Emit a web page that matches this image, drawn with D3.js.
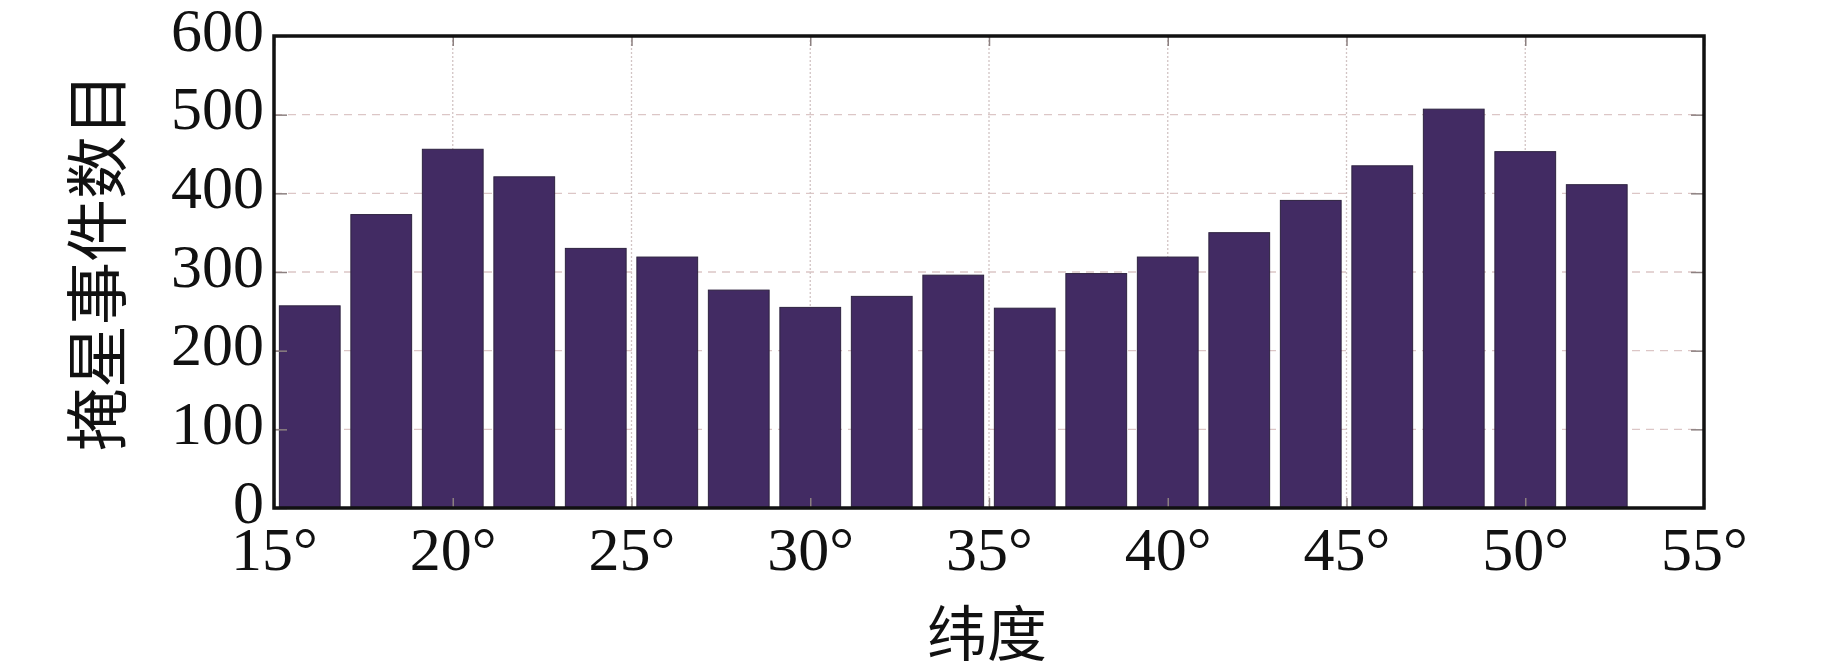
<!DOCTYPE html>
<html>
<head>
<meta charset="utf-8">
<script src="https://cdn.jsdelivr.net/npm/d3@7"></script>
<style>
  html, body { margin: 0; padding: 0; background: #fff; }
  svg { display: block; }
</style>
</head>
<body>
<svg id="chart" width="1843" height="668"></svg>
<script>
// Data
const binCenters = [16, 18, 20, 22, 24, 26, 28, 30, 32, 34, 36, 38, 40, 42, 44, 46, 48, 50, 52];
const eventCounts = [257, 373, 456, 421, 330, 319, 277, 255, 269, 296, 254, 298, 319, 350, 391, 435, 507, 453, 411];
const xTickValues = [15, 20, 25, 30, 35, 40, 45, 50, 55];
const yTickValues = [0, 100, 200, 300, 400, 500, 600];
const xTitle = "纬度";
const yTitle = "掩星事件数目";
const barWidthDeg = 1.7;

// Layout
const plotL = 274, plotR = 1704, plotT = 36, plotB = 508;
const svg = d3.select("#chart");

const x = d3.scaleLinear().domain([15, 55]).range([plotL, plotR]);
const y = d3.scaleLinear().domain([0, 600]).range([plotB, plotT]);

const serif = "Liberation Serif";
const cjk = "Noto Sans CJK SC";

// Grid lines
const grid = svg.append("g");
grid.selectAll("line.h").data(yTickValues.filter(v => v > 0 && v < 600)).enter()
  .append("line")
  .attr("x1", plotL).attr("x2", plotR)
  .attr("y1", d => y(d)).attr("y2", d => y(d))
  .attr("stroke", "#dcc6c6").attr("stroke-width", 1.3)
  .attr("stroke-dasharray", "8,6");
grid.selectAll("line.v").data(xTickValues.filter(v => v > 15 && v < 55)).enter()
  .append("line")
  .attr("x1", d => x(d)).attr("x2", d => x(d))
  .attr("y1", plotT).attr("y2", plotB)
  .attr("stroke", "#d2c4c4").attr("stroke-width", 1.3)
  .attr("stroke-dasharray", "2,2");

// Bars
svg.append("g").selectAll("rect").data(binCenters.map((c, i) => ({c, v: eventCounts[i]}))).enter()
  .append("rect")
  .attr("x", d => x(d.c - barWidthDeg / 2))
  .attr("width", d => x(d.c + barWidthDeg / 2) - x(d.c - barWidthDeg / 2))
  .attr("y", d => y(d.v))
  .attr("height", d => y(0) - y(d.v))
  .attr("fill", "#422b63")
  .attr("stroke", "#2e2340")
  .attr("stroke-width", 1);

// Axes (inward ticks, gray)
const tickColor = "#8c8080";
const yAxisL = d3.axisLeft(y).tickValues(yTickValues).tickSize(-13).tickFormat(d3.format("d"));
const gL = svg.append("g").attr("transform", `translate(${plotL},0)`).call(yAxisL);
gL.select(".domain").remove();
gL.selectAll(".tick line").attr("stroke", tickColor).attr("stroke-width", 1.5);
gL.selectAll(".tick text")
  .attr("x", -10).attr("dy", null).attr("y", 14)
  .attr("text-anchor", "end")
  .attr("font-family", serif).attr("font-size", 62).attr("fill", "#111");

const yAxisR = d3.axisRight(y).tickValues(yTickValues).tickSize(-13).tickFormat("");
const gR = svg.append("g").attr("transform", `translate(${plotR},0)`).call(yAxisR);
gR.select(".domain").remove();
gR.selectAll(".tick line").attr("stroke", tickColor).attr("stroke-width", 1.5);

const xAxisB = d3.axisBottom(x).tickValues(xTickValues).tickSize(-10).tickFormat(d => d + "°");
const gB = svg.append("g").attr("transform", `translate(0,${plotB})`).call(xAxisB);
gB.select(".domain").remove();
gB.selectAll(".tick line").attr("stroke", tickColor).attr("stroke-width", 1.5);
gB.selectAll(".tick text")
  .attr("y", 62).attr("dy", null)
  .attr("text-anchor", "middle")
  .attr("font-family", serif).attr("font-size", 62).attr("fill", "#111");

const xAxisT = d3.axisTop(x).tickValues(xTickValues).tickSize(-10).tickFormat("");
const gT = svg.append("g").attr("transform", `translate(0,${plotT})`).call(xAxisT);
gT.select(".domain").remove();
gT.selectAll(".tick line").attr("stroke", tickColor).attr("stroke-width", 1.5);

// Frame
svg.append("rect")
  .attr("x", plotL).attr("y", plotT)
  .attr("width", plotR - plotL).attr("height", plotB - plotT)
  .attr("fill", "none").attr("stroke", "#111").attr("stroke-width", 3.5);

// Titles
svg.append("text")
  .attr("x", (plotL + plotR) / 2 - 2).attr("y", 629)
  .attr("text-anchor", "middle").attr("dominant-baseline", "central")
  .attr("font-family", cjk).attr("font-size", 60).attr("fill", "#111")
  .text(xTitle);

svg.append("text")
  .attr("transform", `translate(92,262) rotate(-90)`)
  .attr("text-anchor", "middle").attr("dominant-baseline", "central")
  .attr("font-family", cjk).attr("font-size", 63).attr("fill", "#111")
  .text(yTitle);
</script>
</body>
</html>
